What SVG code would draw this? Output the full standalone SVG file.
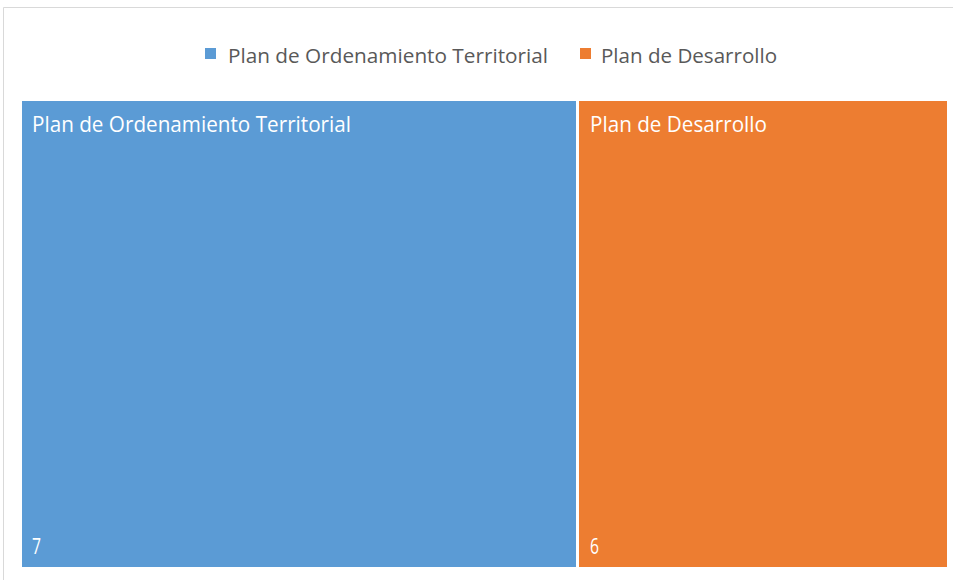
<svg xmlns="http://www.w3.org/2000/svg" width="953" height="580" viewBox="0 0 953 580">
<style>
.lg{font-family:"Open Sans","Liberation Sans",sans-serif;font-size:19.5px;fill:#595959}
.lb{font-family:"Open Sans","Liberation Sans",sans-serif;font-size:21px;fill:#ffffff}
.num{font-family:"Open Sans","Liberation Sans",sans-serif;font-size:22px;fill:#ffffff}
</style>
<rect x="0" y="0" width="953" height="580" fill="#ffffff"/>
<path d="M3.5 580 V7.5 H953" fill="none" stroke="#d9d9d9" stroke-width="1"/>
<g id="legend">
<rect x="205" y="48" width="11" height="11" fill="#5b9bd5"/>
<text class="lg" x="228" y="63" textLength="320" lengthAdjust="spacingAndGlyphs">Plan de Ordenamiento Territorial</text>
<rect x="580" y="48" width="11" height="11" fill="#ed7d31"/>
<text class="lg" x="601" y="63" textLength="176" lengthAdjust="spacingAndGlyphs">Plan de Desarrollo</text>
</g>
<g id="node-pot">
<rect x="22" y="101" width="554" height="466" fill="#5b9bd5"/>
<text class="lb" x="32" y="132" textLength="319" lengthAdjust="spacingAndGlyphs">Plan de Ordenamiento Territorial</text>
<text class="num" x="32" y="554" textLength="9" lengthAdjust="spacingAndGlyphs">7</text>
</g>
<g id="node-pd">
<rect x="579" y="101" width="368" height="466" fill="#ed7d31"/>
<text class="lb" x="590" y="132" textLength="177" lengthAdjust="spacingAndGlyphs">Plan de Desarrollo</text>
<text class="num" x="590" y="554" textLength="9" lengthAdjust="spacingAndGlyphs">6</text>
</g>
<g id="connectors"></g>
</svg>
